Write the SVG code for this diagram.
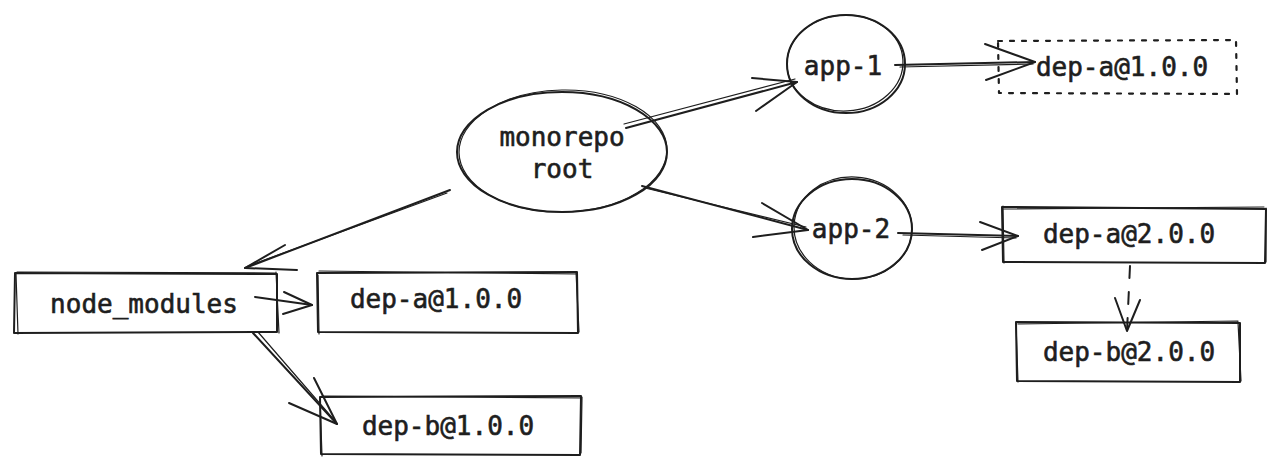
<svg xmlns="http://www.w3.org/2000/svg" width="1280" height="470" viewBox="0 0 1280 470">
<style>
.s{fill:none;stroke:#1e1e1e;stroke-width:2;stroke-linecap:round;stroke-linejoin:round}
.t{stroke-width:1.2}
.d{stroke-dasharray:4 8;stroke-width:2.2}
.dl{stroke-dasharray:12 14}
.tx{font-family:"DejaVu Sans Mono","Liberation Mono",monospace;font-size:26px;fill:#1e1e1e;stroke:#1e1e1e;stroke-width:0.6;text-anchor:middle}
</style>
<rect width="1280" height="470" fill="#ffffff"/>
<g id="connectors">
  <!-- monorepo -> app-1 -->
  <path class="s" d="M626 128 L797 82"/>
  <path class="s t" d="M624 124 L795 79"/>
  <path class="s" d="M797 82 L752 78 M797 82 L756 111"/>
  <!-- monorepo -> app-2 -->
  <path class="s" d="M642 186 L808 230"/>
  <path class="s t" d="M645 188 L806 227"/>
  <path class="s" d="M808 230 L762 203 M808 230 L753 237"/>
  <!-- monorepo -> node_modules -->
  <path class="s" d="M450 190 L245 268"/>
  <path class="s t" d="M447 193 L248 266"/>
  <path class="s" d="M245 268 L285 245 M245 268 L297 270"/>
  <!-- app-1 -> dep-a@1.0.0 -->
  <path class="s" d="M895 65 L1035 62"/>
  <path class="s t" d="M900 67 L1033 64"/>
  <path class="s" d="M1035 62 L985 44 M1035 62 L986 80"/>
  <!-- app-2 -> dep-a@2.0.0 -->
  <path class="s" d="M898 233 L1018 236"/>
  <path class="s t" d="M903 235 L1016 238"/>
  <path class="s" d="M1018 236 L980 222 M1018 236 L982 250"/>
  <!-- dep-a@2.0.0 -> dep-b@2.0.0 -->
  <path class="s dl" d="M1130 266 L1127 331"/>
  <path class="s" d="M1127 331 L1115 298 M1127 331 L1140 300"/>
  <!-- node_modules -> dep-a@1.0.0 -->
  <path class="s" d="M255 297 L312 305"/>
  <path class="s" d="M312 305 L284 292 M312 305 L283 314"/>
  <!-- node_modules -> dep-b@1.0.0 -->
  <path class="s" d="M253 333 L337 424"/>
  <path class="s t" d="M258 332 L335 421"/>
  <path class="s" d="M337 424 L314 378 M337 424 L289 403"/>
</g>
<g id="monorepo-root">
  <ellipse class="s" cx="562" cy="152" rx="105" ry="60"/>
  <ellipse class="s t" cx="563" cy="151" rx="104" ry="61" transform="rotate(-1 563 151)"/>
  <text class="tx" x="562" y="146">monorepo</text>
  <text class="tx" x="562" y="178">root</text>
</g>
<g id="app-1">
  <ellipse class="s" cx="846" cy="64" rx="59" ry="49"/>
  <ellipse class="s t" cx="845" cy="63" rx="58" ry="48" transform="rotate(-3 845 63)"/>
  <text class="tx" x="843" y="75">app-1</text>
</g>
<g id="app-2">
  <ellipse class="s" cx="852" cy="229" rx="60" ry="50"/>
  <ellipse class="s t" cx="853" cy="228" rx="59" ry="51" transform="rotate(3 853 228)"/>
  <text class="tx" x="851" y="238">app-2</text>
</g>
<g id="dep-a-1-top">
  <path class="s d" d="M998 41 L1236 40 L1237 94 L999 93 Z"/>
  <text class="tx" x="1122" y="76">dep-a@1.0.0</text>
</g>
<g id="dep-a-2">
  <path class="s" d="M1002 207 L1266 209 L1265 263 L1003 262 Z"/>
  <path class="s t" d="M1004 209 L1264 207 M1266 208 L1266 262 M1003 206 L1004 263"/>
  <text class="tx" x="1129" y="243">dep-a@2.0.0</text>
</g>
<g id="dep-b-2">
  <path class="s" d="M1016 322 L1240 323 L1240 382 L1017 381 Z"/>
  <path class="s t" d="M1018 324 L1238 321 M1238 322 L1241 381 M1016 324 L1018 382"/>
  <text class="tx" x="1129" y="361">dep-b@2.0.0</text>
</g>
<g id="node_modules">
  <path class="s" d="M15 273 L277 274 L277 332 L14 333 Z"/>
  <path class="s t" d="M17 272 L275 273 M276 272 L279 333 M16 274 L18 334"/>
  <text class="tx" x="144" y="313">node_modules</text>
</g>
<g id="dep-a-1">
  <path class="s" d="M317 273 L577 272 L578 333 L318 332 Z"/>
  <path class="s t" d="M319 271 L576 274 M576 272 L579 332 M318 275 L319 334"/>
  <text class="tx" x="436" y="308">dep-a@1.0.0</text>
</g>
<g id="dep-b-1">
  <path class="s" d="M320 397 L581 396 L580 455 L321 454 Z"/>
  <path class="s t" d="M322 396 L582 398 M582 397 L581 453 M320 399 L322 456"/>
  <text class="tx" x="448" y="435">dep-b@1.0.0</text>
</g>
</svg>
